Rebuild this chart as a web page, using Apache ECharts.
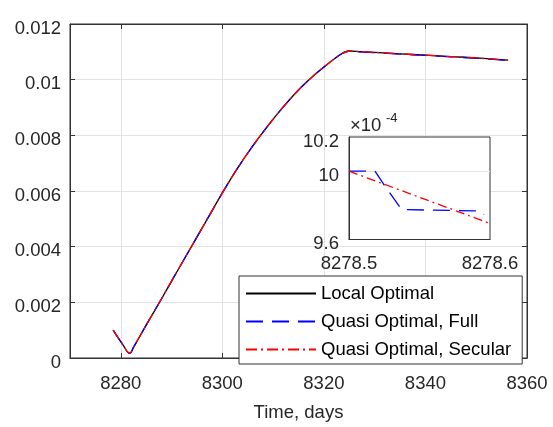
<!DOCTYPE html>
<html><head><meta charset="utf-8">
<script src="https://cdn.jsdelivr.net/npm/echarts@6/dist/echarts.min.js"></script>
<style>html,body{margin:0;padding:0;background:#fff}#c{width:553px;height:427px}</style>
</head><body><div id="c"></div>
<script>
// Main chart data (time in days, value)
var timeDays = [8278.5, 8279.5, 8280.5, 8281.3, 8281.8, 8282.5, 8285, 8288, 8291, 8294, 8297, 8300, 8303, 8306, 8309, 8312, 8315, 8318, 8321, 8323.5, 8325, 8327, 8330, 8335, 8340, 8345, 8350, 8356.3];
var localOptimal = [0.00100, 0.00072, 0.00045, 0.00022, 0.00017, 0.00038, 0.00118, 0.00212, 0.00308, 0.00403, 0.00498, 0.00593, 0.00682, 0.00762, 0.00835, 0.00902, 0.00963, 0.01015, 0.01060, 0.01093, 0.01103, 0.01101, 0.01098, 0.01093, 0.01088, 0.01083, 0.01078, 0.01070];
var quasiFull = [0.00100, 0.00072, 0.00045, 0.00022, 0.00017, 0.00038, 0.00118, 0.00212, 0.00308, 0.00403, 0.00498, 0.00593, 0.00682, 0.00762, 0.00835, 0.00902, 0.00963, 0.01015, 0.01060, 0.01093, 0.01103, 0.01100, 0.01097, 0.01092, 0.01087, 0.01082, 0.01077, 0.01069];
var quasiSecular = [0.00100, 0.00072, 0.00045, 0.00022, 0.00017, 0.00038, 0.00118, 0.00212, 0.00308, 0.00403, 0.00498, 0.00593, 0.00682, 0.00762, 0.00835, 0.00902, 0.00963, 0.01015, 0.01060, 0.01093, 0.01103, 0.01101, 0.01098, 0.01093, 0.01088, 0.01083, 0.01078, 0.01070];
// Inset data (time in days, value in units of 1e-4)
var insetFullT = [8278.5, 8278.5184, 8278.5262, 8278.5374, 8278.5929, 8278.5957];
var insetFullV = [10.0, 10.0, 9.904, 9.775, 9.767, 9.746];
var insetSecT = [8278.5, 8278.6];
var insetSecV = [10.0, 9.694];
var seriesNames = ['Local Optimal', 'Quasi Optimal, Full', 'Quasi Optimal, Secular'];

function pairs(xs, ys) { return xs.map(function (x, i) { return [x, ys[i]]; }); }

var FONT = '"Liberation Sans", Arial, sans-serif';
var AX = '#333333';
var GRID = '#e3e3e3';
var FS = 18.5;

var chart = echarts.init(document.getElementById('c'), null, { renderer: 'canvas' });
chart.setOption({
  animation: false,
  backgroundColor: '#fff',
  textStyle: { fontFamily: FONT },
  grid: [
    { left: 70, top: 24, width: 457, height: 340, show: true, borderColor: AX, borderWidth: 1, backgroundColor: '#fff', z: 0 },
    { left: 349, top: 137, width: 141, height: 102.5, show: true, borderColor: AX, borderWidth: 1, backgroundColor: '#fff', z: 5 }
  ],
  xAxis: [
    { gridIndex: 0, type: 'value', min: 8270, max: 8360, splitNumber: 5,
      axisLine: { show: true, onZero: false, lineStyle: { color: AX } },
      axisTick: { show: true, inside: true, length: 5, lineStyle: { color: AX } },
      axisLabel: { showMinLabel: false, color: '#262626', fontSize: FS, fontFamily: FONT, margin: 16,
        formatter: function (v) { return String(Math.round(v)); } },
      splitLine: { show: true, lineStyle: { color: GRID } },
      name: 'Time, days', nameLocation: 'middle', nameGap: 45,
      nameTextStyle: { color: '#262626', fontSize: FS, fontFamily: FONT } },
    { gridIndex: 0, type: 'value', position: 'top', min: 8270, max: 8360, splitNumber: 5,
      axisLine: { show: true, onZero: false, lineStyle: { color: AX } },
      axisTick: { show: true, inside: true, length: 5, lineStyle: { color: AX } },
      axisLabel: { show: false }, splitLine: { show: false } },
    { gridIndex: 1, type: 'value', min: 8278.5, max: 8278.6, interval: 0.1, z: 6,
      axisLine: { show: true, onZero: false, lineStyle: { color: AX } },
      axisTick: { show: false },
      axisLabel: { color: '#262626', fontSize: FS, fontFamily: FONT, margin: 15,
        formatter: function (v) { return v.toFixed(1); } },
      splitLine: { show: false } }
  ],
  yAxis: [
    { gridIndex: 0, type: 'value', min: 0, max: 0.012, interval: 0.002,
      axisLine: { show: true, onZero: false, lineStyle: { color: AX } },
      axisTick: { show: true, inside: true, length: 5, lineStyle: { color: AX } },
      axisLabel: { color: '#262626', fontSize: FS, fontFamily: FONT, margin: 9, verticalAlign: 'top', lineHeight: 9,
        formatter: function (v) { return String(+v.toFixed(3)); } },
      splitLine: { show: true, lineStyle: { color: GRID } } },
    { gridIndex: 0, type: 'value', position: 'right', min: 0, max: 0.012, interval: 0.002,
      axisLine: { show: true, onZero: false, lineStyle: { color: AX } },
      axisTick: { show: true, inside: true, length: 5, lineStyle: { color: AX } },
      axisLabel: { show: false }, splitLine: { show: false } },
    { gridIndex: 1, type: 'value', min: 9.6, max: 10.2, interval: 0.2, z: 6,
      axisLine: { show: true, onZero: false, lineStyle: { color: AX } },
      axisTick: { show: false },
      axisLabel: { color: '#262626', fontSize: FS, fontFamily: FONT, margin: 10, verticalAlign: 'top', lineHeight: 9,
        formatter: function (v) { return Math.abs(v - 9.8) < 1e-6 ? '' : String(+v.toFixed(1)); } },
      splitLine: { show: true, lineStyle: { color: ['transparent', 'transparent', GRID, 'transparent'] } } }
  ],
  legend: {
    data: seriesNames, orient: 'vertical', left: 239, top: 276,
    itemWidth: 70, itemHeight: 14, itemGap: 9, padding: [8, 11, 5, 6],
    backgroundColor: '#fff', borderColor: AX, borderWidth: 1, borderRadius: 0,
    textStyle: { color: '#000', fontSize: FS, fontFamily: FONT },
    itemStyle: { opacity: 0, borderWidth: 0 }
  },
  graphic: [
    { type: 'text', left: 350, top: 116, z: 10, style: { text: '×10', fontSize: FS, fontFamily: FONT, fill: '#262626' } },
    { type: 'text', left: 386, top: 112, z: 10, style: { text: '-4', fontSize: 13, fontFamily: FONT, fill: '#262626' } }
  ],
  series: [
    { name: seriesNames[0], type: 'line', xAxisIndex: 0, yAxisIndex: 0, symbol: 'none', smooth: 0.3,
      data: pairs(timeDays, localOptimal), lineStyle: { color: '#000', width: 1.3 }, itemStyle: { color: '#000' }, z: 2 },
    { name: seriesNames[1], type: 'line', xAxisIndex: 0, yAxisIndex: 0, symbol: 'none', smooth: 0.3,
      data: pairs(timeDays, quasiFull), lineStyle: { color: '#0000ff', width: 1.3, type: [17, 9] }, itemStyle: { color: '#0000ff' }, z: 3 },
    { name: seriesNames[2], type: 'line', xAxisIndex: 0, yAxisIndex: 0, symbol: 'none', smooth: 0.3,
      data: pairs(timeDays, quasiSecular), lineStyle: { color: '#ff0000', width: 1.3, type: [11, 4, 2, 4] }, itemStyle: { color: '#ff0000' }, z: 4 },
    { name: seriesNames[1] + ' inset', type: 'line', xAxisIndex: 2, yAxisIndex: 2, symbol: 'none', clip: true,
      data: pairs(insetFullT, insetFullV), lineStyle: { color: '#0000ff', width: 1.3, type: [17, 9] }, z: 7 },
    { name: seriesNames[2] + ' inset', type: 'line', xAxisIndex: 2, yAxisIndex: 2, symbol: 'none', clip: true,
      data: pairs(insetSecT, insetSecV), lineStyle: { color: '#ff0000', width: 1.3, type: [9, 4, 2, 4] }, z: 8 }
  ]
});
</script></body></html>
